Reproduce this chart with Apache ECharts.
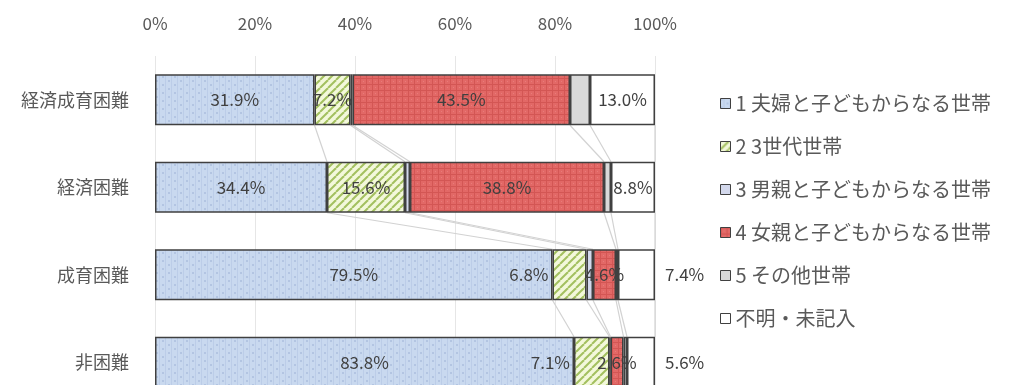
<!DOCTYPE html>
<html>
<head>
<meta charset="utf-8">
<script src="https://cdn.jsdelivr.net/npm/echarts@6/dist/echarts.min.js"></script>
<style>
html,body{margin:0;padding:0;background:#fff;}
#chart{width:1024px;height:385px;}
</style>
</head>
<body>
<div id="chart"></div>
<script>
// ---- data ----
const categories = ['経済成育困難', '経済困難', '成育困難', '非困難'];
const seriesNames = ['1 夫婦と子どもからなる世帯', '2 3世代世帯', '3 男親と子どもからなる世帯', '4 女親と子どもからなる世帯', '5 その他世帯', '不明・未記入'];
const fuufu   = [31.9, 34.4, 79.5, 83.8];
const sansedai = [7.2, 15.6, 6.8, 7.1];
const otoko   = [0.4, 1.0, 1.3, 0.2];
const onna    = [43.5, 38.8, 4.6, 2.6];
const sonota  = [4.0, 1.4, 0.4, 0.7];
const fumei   = [13.0, 8.8, 7.4, 5.6];
const xTickLabels = ['0%', '20%', '40%', '60%', '80%', '100%'];

const values = [fuufu, sansedai, otoko, onna, sonota, fumei];

// ---- styles ----
const FONT = '"Noto Sans CJK JP", "Noto Sans", sans-serif';
const BAR_W = 51;

function pattern(w, h, draw) {
  const c = document.createElement('canvas');
  c.width = w; c.height = h;
  const g = c.getContext('2d');
  draw(g, w, h);
  return { image: c, repeat: 'repeat' };
}
const bluePat = pattern(12, 8, (g, w, h) => {
  g.fillStyle = '#c9d9ef'; g.fillRect(0, 0, w, h);
  g.fillStyle = '#b3c5e2';
  g.fillRect(0, 0, 2, 2); g.fillRect(6, 4, 2, 2);
  g.fillStyle = '#bccde8';
  g.fillRect(3, 0, 1, 8); g.fillRect(9, 0, 1, 8);
});
const greenPat = pattern(8, 8, (g, w, h) => {
  g.fillStyle = '#f3f8db'; g.fillRect(0, 0, w, h);
  g.strokeStyle = '#a3c05f'; g.lineWidth = 2;
  for (let k = -8; k <= 16; k += 8) {
    g.beginPath(); g.moveTo(k, h); g.lineTo(k + 8, 0); g.stroke();
  }
});
const redPat = pattern(6, 6, (g, w, h) => {
  g.fillStyle = '#e26866'; g.fillRect(0, 0, w, h);
  g.fillStyle = '#d35654';
  g.fillRect(0, 0, 1, h); g.fillRect(0, 0, w, 1);
  g.fillStyle = '#e87c7a';
  g.fillRect(3, 3, 1, 1);
});
const colors = [bluePat, greenPat, '#d3d8ec', redPat, '#d9d9d9', '#ffffff'];

// label placement (style, not data): series index -> {category index: position}
const labelPlacement = {
  0: {}, 1: { 2: 'left', 3: 'left' }, 3: {}, 5: { 2: 'right', 3: 'right' }
};
const hiddenLabelSeries = [2, 4];

const series = seriesNames.map((name, s) => ({
  name: name,
  type: 'bar',
  stack: 'total',
  barWidth: BAR_W,
  z: 3,
  itemStyle: { color: colors[s], borderColor: '#404040', borderWidth: 1.5 },
  data: values[s].map((v, c) => {
    const pos = (labelPlacement[s] || {})[c] || 'inside';
    return {
      value: v,
      label: {
        show: hiddenLabelSeries.indexOf(s) < 0,
        position: pos,
        distance: pos === 'right' ? 10 : 4
      }
    };
  }),
  label: {
    fontFamily: FONT,
    fontSize: 17,
    color: '#404040',
    formatter: p => p.value.toFixed(1) + '%'
  },
  emphasis: { disabled: true }
}));

// series lines connecting segment boundaries of adjacent bars
const connectorData = [];
for (let c = 0; c < categories.length - 1; c++) {
  let a = 0, b = 0;
  for (let s = 0; s < values.length; s++) {
    a += values[s][c];
    b += values[s][c + 1];
    connectorData.push([a, c, b]);
  }
}
series.push({
  type: 'custom',
  name: 'connectors',
  silent: true,
  z: 1,
  encode: { x: [0, 2], y: 1 },
  data: connectorData,
  renderItem: function (params, api) {
    const p1 = api.coord([api.value(0), api.value(1)]);
    const p2 = api.coord([api.value(2), api.value(1) + 1]);
    return {
      type: 'line',
      shape: { x1: p1[0], y1: p1[1] + BAR_W / 2, x2: p2[0], y2: p2[1] - BAR_W / 2 },
      style: { stroke: '#d2d2d2', lineWidth: 1.2 }
    };
  }
});

const chart = echarts.init(document.getElementById('chart'), null, { renderer: 'canvas' });
chart.setOption({
  animation: false,
  backgroundColor: '#ffffff',
  grid: { left: 155, top: 56, width: 500, height: 350, containLabel: false, outerBoundsMode: 'none' },
  xAxis: {
    type: 'value',
    position: 'top',
    min: 0, max: 100, interval: 20,
    axisLine: { show: false },
    axisTick: { show: false },
    splitLine: { show: true, lineStyle: { color: '#e6e6e6', width: 1 } },
    axisLabel: {
      margin: 24,
      fontFamily: FONT,
      fontSize: 17,
      color: '#595959',
      formatter: (v) => xTickLabels[Math.round(v / 20)]
    }
  },
  yAxis: {
    type: 'category',
    inverse: true,
    data: categories,
    axisLine: { show: false },
    axisTick: { show: false },
    axisLabel: { margin: 26, fontFamily: FONT, fontSize: 18, color: '#595959' }
  },
  legend: {
    orient: 'vertical',
    left: 715,
    top: 88,
    icon: 'rect',
    itemWidth: 10,
    itemHeight: 10,
    itemGap: 22,
    data: seriesNames,
    selectedMode: false,
    textStyle: { fontFamily: FONT, fontSize: 20, color: '#595959', lineHeight: 21, padding: [0, 0, 0, 0] },
    itemStyle: { borderColor: '#404040', borderWidth: 1 }
  },
  series: series
});
</script>
</body>
</html>
